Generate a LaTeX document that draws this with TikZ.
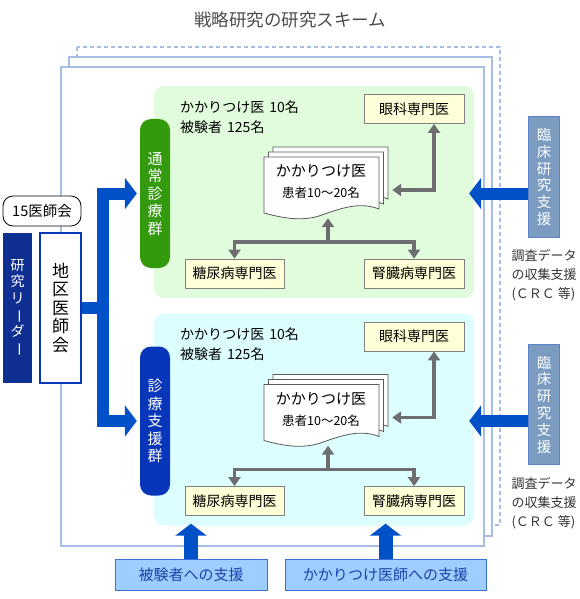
\documentclass[tikz,border=0pt]{standalone}
\usepackage{fontspec}
\setmainfont{Noto Sans CJK JP}
\usepackage{graphicx}
\usetikzlibrary{arrows.meta,positioning}

\definecolor{framec}{HTML}{A8BDE4}
\definecolor{bggreen}{HTML}{E1FCDC}
\definecolor{bgcyan}{HTML}{DDFEFF}
\definecolor{labgreen}{HTML}{339A0E}
\definecolor{labblue}{HTML}{0836BA}
\definecolor{navy}{HTML}{102F93}
\definecolor{arrb}{HTML}{0050C8}
\definecolor{arrg}{HTML}{6E6E70}
\definecolor{specc}{HTML}{FFFFD8}
\definecolor{steel}{HTML}{7B9CC0}
\definecolor{steeld}{HTML}{5C84C8}
\definecolor{suppc}{HTML}{9ECEFF}
\definecolor{suppd}{HTML}{3D6FD6}
\definecolor{supptx}{HTML}{1E40A8}

\newcommand{\fsz}[2]{\fontsize{#1}{#2}\selectfont}
\newcommand{\vbar}{\rotatebox[origin=c]{-90}{ー}}

\begin{document}
\begin{tikzpicture}[x=1pt, y=-1pt,
  frame/.style={draw=framec, line width=1.3pt, fill=white},
  region/.style={rounded corners=10pt, minimum width=320pt, minimum height=212pt},
  vlab/.style={rounded corners=11pt, minimum width=30pt, minimum height=149pt,
    inner sep=0pt, text=white, align=center, font=\fsz{15}{17.5}},
  spec/.style={draw=black!50, line width=0.8pt, fill=specc, minimum height=29pt,
    inner sep=0pt, font=\fsz{14}{16}},
  rsup/.style={draw=steeld, line width=1pt, fill=steel, text=white, align=center,
    minimum width=31pt, minimum height=120pt, inner sep=0pt, font=\fsz{14.5}{16.8}},
  note/.style={align=left, inner sep=0pt, text=black!80, font=\fsz{13}{19}},
  supp/.style={draw=suppd, line width=1pt, fill=suppc, text=supptx, minimum height=31pt,
    inner sep=0pt, font=\fsz{15}{17}},
  garr/.style={draw=arrg, line width=3.5pt, -{Triangle[length=9pt,width=12pt]}},
  barr/.style={draw=arrb, line width=12pt, -{Triangle[length=12pt,width=31pt]}},
  sheet/.pic={\draw[black!65, line width=0.8pt, fill=white] (0,0) -- (115,0) -- (115,52)
    .. controls (95,44) and (75,52) .. (55,59) .. controls (35,65) and (15,60) .. (0,56) -- cycle;}]
\useasboundingbox (0,0) rectangle (580,599);
\node[font=\fsz{17.5}{20}, text=black!70] (title) at (290,20) {戦略研究の研究スキーム};
\draw[frame, dash pattern=on 4pt off 3pt] (77,47) rectangle (500,525);
\draw[frame] (69,57) rectangle (492,536);
\draw[frame] (61,67) rectangle (484,546);

\foreach \g/\dy/\bgc/\labc/\labtxt in {a/0/bggreen/labgreen/{通\\常\\診\\療\\群},
    b/227.5/bgcyan/labblue/{診\\療\\支\\援\\群}}{
  \node[region, fill=\bgc] (reg-\g) at (314,192+\dy) {};
  \node[vlab, fill=\labc] (lab-\g) at (155,193.5+\dy) {\labtxt};
  \node[anchor=north west, align=left, inner sep=0pt, font=\fsz{14}{20}] (head-\g)
    at (180,100+\dy) {かかりつけ医\hspace{5pt}10名\\被験者\hspace{5pt}125名};
  \node[spec, minimum width=100pt] (eye-\g) at (414,109+\dy) {眼科専門医};
  \node[spec, minimum width=99pt] (dm-\g) at (234.5,273.5+\dy) {糖尿病専門医};
  \node[spec, minimum width=100pt] (kd-\g) at (414,273.5+\dy) {腎臓病専門医};
  \pic at (273,147+\dy) {sheet};
  \pic at (268.5,152+\dy) {sheet};
  \pic at (264,157+\dy) {sheet};
  \node[minimum width=128pt, minimum height=72pt, inner sep=0pt] (stack-\g) at (328,182+\dy) {};
  \node[align=center, inner sep=0pt, font=\fsz{15}{21}] (doc-\g) at (321,182+\dy)
    {かかりつけ医\\{\fsz{12.5}{15}患者10～20名}};
  \draw[garr, {Triangle[length=9pt,width=12pt]}-{Triangle[length=9pt,width=12pt]}]
    ([yshift=-8pt]stack-\g.east) -| ([xshift=20pt]eye-\g.south);
  \coordinate (j-\g) at (328,242+\dy);
  \draw[garr] (j-\g) -- (stack-\g.south);
  \draw[garr] (j-\g) -| (dm-\g.north);
  \draw[garr] (j-\g) -| (kd-\g.north);
  \node[rsup] (rs-\g) at (544,177+\dy) {臨\\床\\研\\究\\支\\援};
  \node[note, below=12pt of rs-\g] (note-\g) {調査データ\\の収集支援\\(ＣＲＣ 等)};
  \draw[barr, shorten >=-5pt] (rs-\g.west |- lab-\g.center) -- (reg-\g.east |- lab-\g.center);
}

\node[draw, fill=white, rounded corners=10pt, line width=0.8pt, minimum width=78pt,
  minimum height=30pt, inner sep=0pt, font=\fsz{14.5}{16}] (kai15) at (42,211) {15医師会};
\node[fill=navy, text=white, align=center, minimum width=29pt, minimum height=150pt,
  inner sep=0pt, font=\fsz{14}{16.5}] (leader) at (17.5,308) {研\\究\\リ\\\vbar\\ダ\\\vbar};
\node[draw=labblue, line width=1.2pt, fill=white, align=center, minimum width=41pt,
  minimum height=150pt, inner sep=0pt, font=\fsz{17}{18.5}] (chiku) at (60.5,308) {地\\区\\医\\師\\会};
\coordinate (bj) at (102.5,308);
\draw[barr, -] (chiku.east) -- (bj);
\draw[barr, shorten >=3pt] (bj) |- (lab-a.west);
\draw[barr, shorten >=3pt] (bj) |- (lab-b.west);

\node[supp, minimum width=152pt] (sup1) at (191,574.5) {被験者への支援};
\node[supp, minimum width=201pt] (sup2) at (385.5,574.5) {かかりつけ医師への支援};
\draw[barr, line width=14pt, shorten >=-2pt] (sup1.north) -- (sup1.north |- reg-b.south);
\draw[barr, line width=14pt, shorten >=-2pt] (sup2.north) -- (sup2.north |- reg-b.south);
\end{tikzpicture}
\end{document}
